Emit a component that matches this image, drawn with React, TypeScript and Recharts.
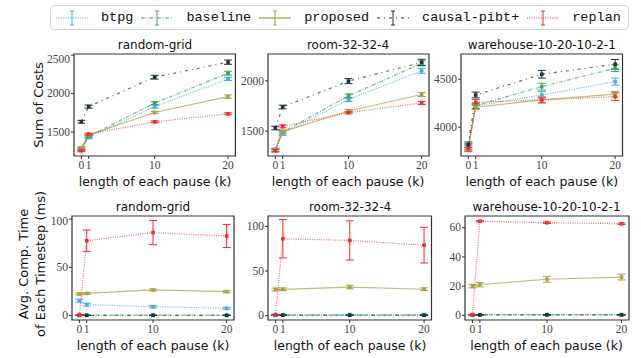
import React from 'react';
import { LineChart, Line, XAxis, YAxis, ErrorBar, ReferenceArea } from 'recharts';

const pauseLengths = [0, 1, 10, 20];
const methods = ['btpg', 'baseline', 'proposed', 'causal-pibt+', 'replan'];
const methodColors = ['#3eb1dd', '#3ea35c', '#a8a23c', '#1c3142', '#ff2626'];
const methodDashes = ['1.2 1.2', '4 1.5 1 1.5', undefined, '3 4 1 4', '1 1.3'];

// sum of costs (rows follow `methods`)
const socRandomGrid = [
  [1275, 1430, 1832, 2192],
  [1280, 1445, 1877, 2266],
  [1295, 1465, 1755, 1962],
  [1635, 1832, 2214, 2409],
  [1258, 1474, 1634, 1738],
];
const socRandomGridErr = [
  [15, 15, 20, 22],
  [15, 15, 20, 25],
  [15, 12, 15, 22],
  [18, 20, 25, 28],
  [12, 12, 12, 12],
];
const socRoom = [
  [1308, 1475, 1814, 2100],
  [1315, 1490, 1850, 2174],
  [1312, 1495, 1700, 1864],
  [1530, 1740, 1997, 2184],
  [1305, 1547, 1684, 1780],
];
const socRoomErr = [
  [15, 18, 20, 25],
  [15, 18, 20, 25],
  [15, 15, 15, 20],
  [18, 18, 25, 30],
  [12, 15, 12, 15],
];
const socWarehouse = [
  [3790, 4222, 4336, 4475],
  [3800, 4225, 4423, 4615],
  [3795, 4208, 4284, 4344],
  [3816, 4336, 4552, 4656],
  [3775, 4260, 4284, 4319],
];
const socWarehouseErr = [
  [30, 25, 35, 37],
  [30, 30, 35, 35],
  [30, 25, 30, 30],
  [30, 30, 40, 50],
  [30, 30, 30, 40],
];

// avg computation time per timestep (ms)
const timeRandomGrid = [
  [15.5, 11.4, 9.3, 7.6],
  [0.5, 0.5, 0.5, 0.5],
  [22.5, 23, 26.6, 24.8],
  [0.3, 0.3, 0.3, 0.3],
  [0.4, 77.6, 86, 82.5],
];
const timeRandomGridErr = [
  [1.5, 1.5, 1.2, 1],
  [0.2, 0.2, 0.2, 0.2],
  [1, 1, 1, 1],
  [0.1, 0.1, 0.1, 0.1],
  [0.2, 11, 12.5, 12],
];
const timeRoom = [
  [1.2, 1.2, 1.2, 1.2],
  [0.6, 0.6, 0.6, 0.6],
  [29.3, 29.5, 32, 29.6],
  [0.4, 0.4, 0.4, 0.4],
  [0.5, 86.2, 84.3, 79],
];
const timeRoomErr = [
  [0.3, 0.3, 0.3, 0.3],
  [0.2, 0.2, 0.2, 0.2],
  [1.5, 1.5, 2, 1.5],
  [0.1, 0.1, 0.1, 0.1],
  [0.3, 21.5, 22, 20],
];
const timeWarehouse = [
  [0.5, 0.5, 0.5, 0.5],
  [0.4, 0.4, 0.4, 0.4],
  [20, 21, 24.7, 26.2],
  [0.3, 0.3, 0.3, 0.3],
  [0.4, 64.4, 63.4, 62.7],
];
const timeWarehouseErr = [
  [0.1, 0.1, 0.1, 0.1],
  [0.1, 0.1, 0.1, 0.1],
  [1.2, 1.5, 2, 2],
  [0.1, 0.1, 0.1, 0.1],
  [0.1, 0.4, 0.5, 0.5],
];

const panels = [
  { title: 'random-grid', values: socRandomGrid, errors: socRandomGridErr, domain: [1190, 2515], ticks: [1500, 2000, 2500], box: { x: 74.3, y: 54, w: 161.4, h: 102 } },
  { title: 'room-32-32-4', values: socRoom, errors: socRoomErr, domain: [1252, 2267], ticks: [1500, 2000], box: { x: 267.5, y: 54, w: 161, h: 102 } },
  { title: 'warehouse-10-20-10-2-1', values: socWarehouse, errors: socWarehouseErr, domain: [3700, 4763], ticks: [4000, 4500], box: { x: 461, y: 54, w: 161.5, h: 102 } },
  { title: 'random-grid', values: timeRandomGrid, errors: timeRandomGridErr, domain: [-4.5, 103.2], ticks: [0, 50, 100], box: { x: 72, y: 216, w: 162, h: 104 } },
  { title: 'room-32-32-4', values: timeRoom, errors: timeRoomErr, domain: [-4.9, 111.7], ticks: [0, 50, 100], box: { x: 268.3, y: 216, w: 163.5, h: 104 } },
  { title: 'warehouse-10-20-10-2-1', values: timeWarehouse, errors: timeWarehouseErr, domain: [-3.2, 68], ticks: [0, 20, 40, 60], box: { x: 464.5, y: 216, w: 164, h: 104 } },
];

const sansFont = '"DejaVu Sans", sans-serif';
const serifFont = '"Liberation Serif", "DejaVu Serif", serif';

// matplotlib-like serif tick label
function SerifTick({ x, y, payload, textAnchor, verticalAnchor }) {
  const dy = verticalAnchor === 'start' ? '0.71em' : '0.33em';
  return (
    <text x={x} y={y} dy={dy} textAnchor={textAnchor} fontFamily={serifFont} fontSize={11.5} fill="#444">
      {payload.value}
    </text>
  );
}

function Centered({ x, y, children, size = 12.5, rotate = 0 }) {
  return (
    <div
      style={{
        position: 'absolute',
        left: x,
        top: y,
        transform: `translate(-50%, -50%) rotate(${rotate}deg)`,
        whiteSpace: 'nowrap',
        fontFamily: sansFont,
        fontSize: size,
        color: '#111',
        lineHeight: 1,
      }}
    >
      {children}
    </div>
  );
}

function Panel({ title, values, errors, domain, ticks, box }) {
  const data = pauseLengths.map((k, i) => {
    const row: Record<string, number> = { k };
    values.forEach((v, s) => {
      row['v' + s] = v[i];
      row['e' + s] = errors[s][i];
    });
    return row;
  });
  const padL = 50, padT = 4, padR = 6, padB = 20;

  return (
    <>
      <div style={{ position: 'absolute', left: box.x - padL, top: box.y - padT }}>
        <LineChart
          width={box.w + padL + padR}
          height={box.h + padT + padB}
          data={data}
          margin={{ top: padT, right: padR, bottom: 0, left: 0 }}
        >
          <XAxis
            dataKey="k"
            type="number"
            domain={[-1, 21]}
            ticks={pauseLengths}
            height={padB}
            axisLine={false}
            tickSize={3}
            tickMargin={2}
            tick={<SerifTick />}
            tickLine={{ stroke: '#333' }}
            interval={0}
          />
          <YAxis
            type="number"
            domain={domain}
            ticks={ticks}
            width={padL}
            axisLine={false}
            tickSize={3}
            tickMargin={1}
            tick={<SerifTick />}
            tickLine={{ stroke: '#333' }}
            allowDataOverflow
          />
          {methods.map((m, s) => (
            <Line
              key={m}
              type="linear"
              dataKey={'v' + s}
              stroke={methodColors[s]}
              strokeOpacity={0.7}
              strokeWidth={1.2}
              strokeDasharray={methodDashes[s]}
              isAnimationActive={false}
              dot={(p) => (
                <rect
                  key={m + p.index}
                  x={p.cx - 1.8}
                  y={p.cy - 1.8}
                  width={3.6}
                  height={3.6}
                  fill={methodColors[s]}
                />
              )}
              activeDot={false}
            >
              <ErrorBar dataKey={'e' + s} width={4} strokeWidth={1} stroke={methodColors[s]} direction="y" />
            </Line>
          ))}
          <ReferenceArea
            x1={-1}
            x2={21}
            y1={domain[0]}
            y2={domain[1]}
            fill="none"
            stroke="#333"
            strokeWidth={1.2}
          />
        </LineChart>
      </div>
      <Centered x={box.x + box.w / 2} y={box.y - 9} size={12}>{title}</Centered>
      <Centered x={box.x + box.w / 2} y={box.y + box.h + 26}>length of each pause (k)</Centered>
    </>
  );
}

function LegendMarker({ color, dash }) {
  return (
    <svg width={32} height={20} style={{ display: 'block', flexShrink: 0 }}>
      <line x1={0} x2={32} y1={10} y2={10} stroke={color} strokeWidth={1.2} strokeDasharray={dash} />
      <line x1={16} x2={16} y1={3} y2={17} stroke={color} strokeWidth={1} />
      <line x1={14} x2={18} y1={3} y2={3} stroke={color} strokeWidth={1} />
      <line x1={14} x2={18} y1={17} y2={17} stroke={color} strokeWidth={1} />
    </svg>
  );
}

export default function App() {
  return (
    <div style={{ position: 'absolute', left: 0, top: 0, width: 641, height: 358, background: '#fff', overflow: 'hidden' }}>
      <div
        style={{
          position: 'absolute',
          left: 50,
          top: 5,
          width: 579,
          height: 25,
          boxSizing: 'border-box',
          border: '1px solid #d4d4d4',
          borderRadius: 4,
          display: 'flex',
          alignItems: 'center',
          paddingLeft: 5,
          fontFamily: '"Liberation Mono", monospace',
          fontSize: 13.5,
          color: '#111',
          whiteSpace: 'nowrap',
        }}
      >
        {methods.map((m, s) => (
          <div key={m} style={{ display: 'flex', alignItems: 'center', marginRight: 8, flexShrink: 0 }}>
            <LegendMarker color={methodColors[s]} dash={methodDashes[s]} />
            <span style={{ marginLeft: 13 }}>{m}</span>
          </div>
        ))}
      </div>
      {panels.map((p, i) => (
        <Panel key={i} {...p} />
      ))}
      <Centered x={38} y={105} size={13} rotate={-90}>Sum of Costs</Centered>
      <Centered x={22.5} y={264} size={13} rotate={-90}>Avg. Comp. Time</Centered>
      <Centered x={39.5} y={264} size={13} rotate={-90}>of Each Timestep (ms)</Centered>
    </div>
  );
}
